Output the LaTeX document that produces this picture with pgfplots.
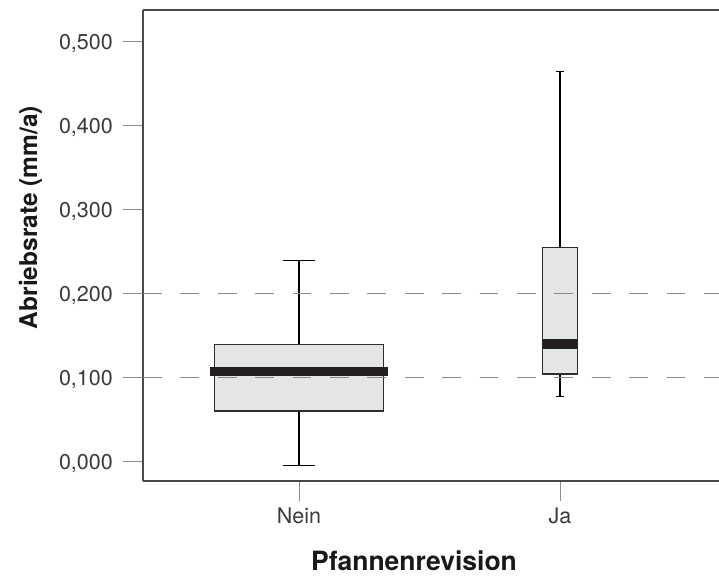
\documentclass[border=0pt]{standalone}
\usepackage{pgfplots}
\pgfplotsset{compat=1.18}
\usepgfplotslibrary{statistics}
\usepackage{fontspec}
\setmainfont{TeX Gyre Heros}
\definecolor{boxfill}{HTML}{E4E5E7}
\definecolor{boxline}{HTML}{2E2E2E}
\definecolor{ticklab}{HTML}{3A3A3A}
\definecolor{tickgray}{HTML}{8C8C8C}
\definecolor{framegray}{HTML}{4A4A4A}
\definecolor{dashgray}{HTML}{8A8A8A}
\definecolor{medblack}{HTML}{231F20}
\begin{document}
\begin{tikzpicture}
\path[use as bounding box] (0pt,0pt) rectangle (719pt,581pt);
\begin{axis}[
  at={(143pt,100pt)}, anchor=south west,
  scale only axis, width=576pt, height=471pt,
  xmin=-0.5977, xmax=1.6092, ymin=-0.0232, ymax=0.5375,
  axis x line=box, axis y line=left,
  axis line style={-, framegray, line width=1.2pt},
  xtick={0,1}, xticklabels={Nein,Ja},
  xtick pos=left, ytick pos=left,
  ytick={0,0.1,0.2,0.3,0.4,0.5},
  yticklabels={{0,000},{0,100},{0,200},{0,300},{0,400},{0,500}},
  tick align=outside, major tick length=20pt,
  tick style={tickgray, line width=1pt},
  ticklabel style={font=\fontsize{21.5}{25}\selectfont, color=ticklab},
  yticklabel style={text depth=0pt, inner sep=0pt, xshift=-10pt},
  xticklabel style={inner sep=0pt, yshift=-7pt},
  boxplot/draw direction=y,
  clip=false,
]
\addplot[boxplot prepared={lower whisker=-0.005, lower quartile=0.060,
    median=0.107, upper quartile=0.139, upper whisker=0.239,
    draw position=0, box extend=0.645, whisker extend=0.123,
    every median/.style={medblack, line width=9.6pt, line cap=rect},
    every box/.style={draw=boxline, fill=boxfill, line width=1.3pt},
    every whisker/.style={black, line width=1.3pt}},
  draw=black, solid] coordinates {};
\addplot[boxplot prepared={lower whisker=0.077, lower quartile=0.104,
    median=0.140, upper quartile=0.255, upper whisker=0.464,
    draw position=1, box extend=0.132, whisker extend=0.033,
    every median/.style={medblack, line width=9.6pt},
    every box/.style={draw=boxline, fill=boxfill, line width=1.3pt},
    every whisker/.style={black, line width=1.3pt}},
  draw=black, solid] coordinates {};
\addplot[dashgray, line width=1.2pt, dash pattern=on 18.7pt off 18.7pt]
  coordinates {(-0.5977,0.1) (1.6092,0.1)};
\addplot[dashgray, line width=1.2pt, dash pattern=on 18.7pt off 18.7pt]
  coordinates {(-0.5977,0.2) (1.6092,0.2)};
\end{axis}
\node[rotate=90, anchor=base, text=black!90, font=\bfseries\fontsize{24.5}{29}\selectfont] at (37pt,363.5pt) {Abriebsrate (mm/a)};
\node[anchor=base, text=black!90, font=\bfseries\fontsize{26.5}{31}\selectfont] at (414pt,11pt) {Pfannenrevision};
\end{tikzpicture}
\end{document}
